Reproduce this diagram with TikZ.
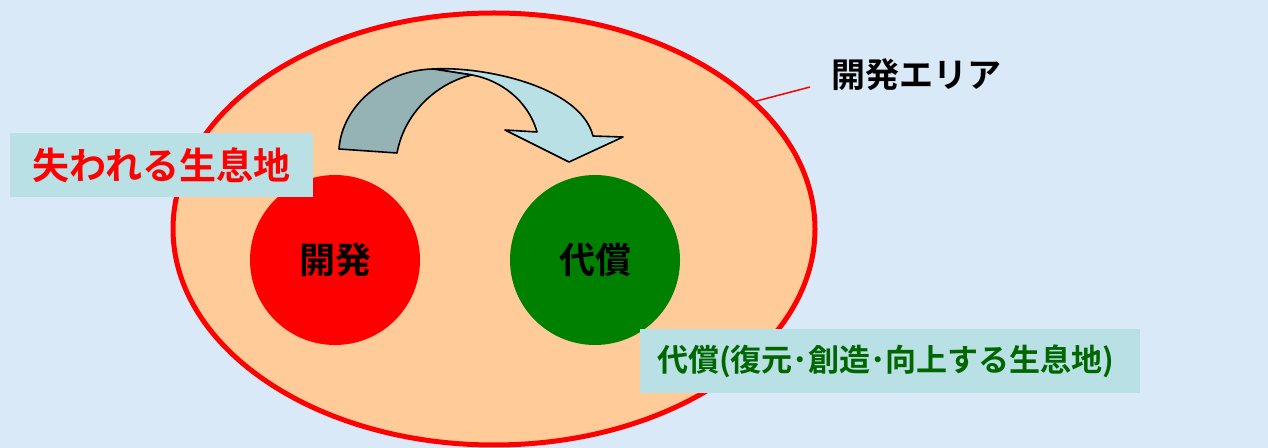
\documentclass[tikz,border=0pt]{standalone}
\usepackage{fontspec}
\setmainfont{Noto Sans CJK JP}[BoldFont={Noto Sans CJK JP Bold}]
\usetikzlibrary{shapes.geometric}
\definecolor{bgblue}{RGB}{218,233,247}
\definecolor{peach}{RGB}{255,204,153}
\definecolor{tagcyan}{RGB}{185,224,228}
\definecolor{backteal}{RGB}{149,179,181}
\definecolor{deepgreen}{RGB}{0,102,0}
\definecolor{fullgreen}{RGB}{0,128,0}

\begin{document}
\begin{tikzpicture}[x=0.5pt,y=-0.5pt,
    tag/.style={fill=tagcyan,inner sep=0pt,minimum height=32pt},
    zone/.style={circle,inner sep=0pt,minimum size=85pt,font=\fontsize{18}{18}\selectfont\bfseries}]
    \fill[bgblue] (0,0) rectangle (1268,448);
    \useasboundingbox (0,0) rectangle (1268,448);
    % development area
    \node[ellipse,draw=red,fill=peach,line width=2.5pt,minimum width=321pt,minimum height=216pt,inner sep=0pt] (area) at (494,229) {};
    % curved arrow
    \filldraw[fill=tagcyan,line width=0.8pt,line join=round] (433,69) .. controls (480,66) and (580,85) .. (593,136) -- (623,137) -- (569,162) -- (505,130) -- (537,132) .. controls (528,100) and (500,80) .. (472,75) -- cycle;
    \filldraw[fill=backteal,line width=0.8pt,line join=round] (339,149) .. controls (342,105) and (385,70) .. (433,69) -- (472,75) .. controls (440,82) and (405,110) .. (397,153) -- cycle;
    \node[zone,fill=red] (dev) at (335,260) {開発};
    \node[zone,fill=fullgreen] (comp) at (595,260) {代償};
    \node[tag,minimum width=151.5pt,text=red,font=\fontsize{18.5}{18.5}\selectfont\bfseries] (lost) at (161.5,165) {失われる生息地};
    \node[tag,inner xsep=8.5pt,text width=233pt,align=left,text=deepgreen,font=\fontsize{15.5}{15.5}\selectfont\bfseries] (gain) at (890,361) {代償(復元･創造･向上する生息地)};
    \node[font=\fontsize{17}{17}\selectfont\bfseries] (arealbl) at (916,75) {開発エリア};
    \coordinate (leadfrom) at (810,87);
    \draw[red,line width=0.75pt] (leadfrom) -- (area.26);
\end{tikzpicture}
\end{document}
